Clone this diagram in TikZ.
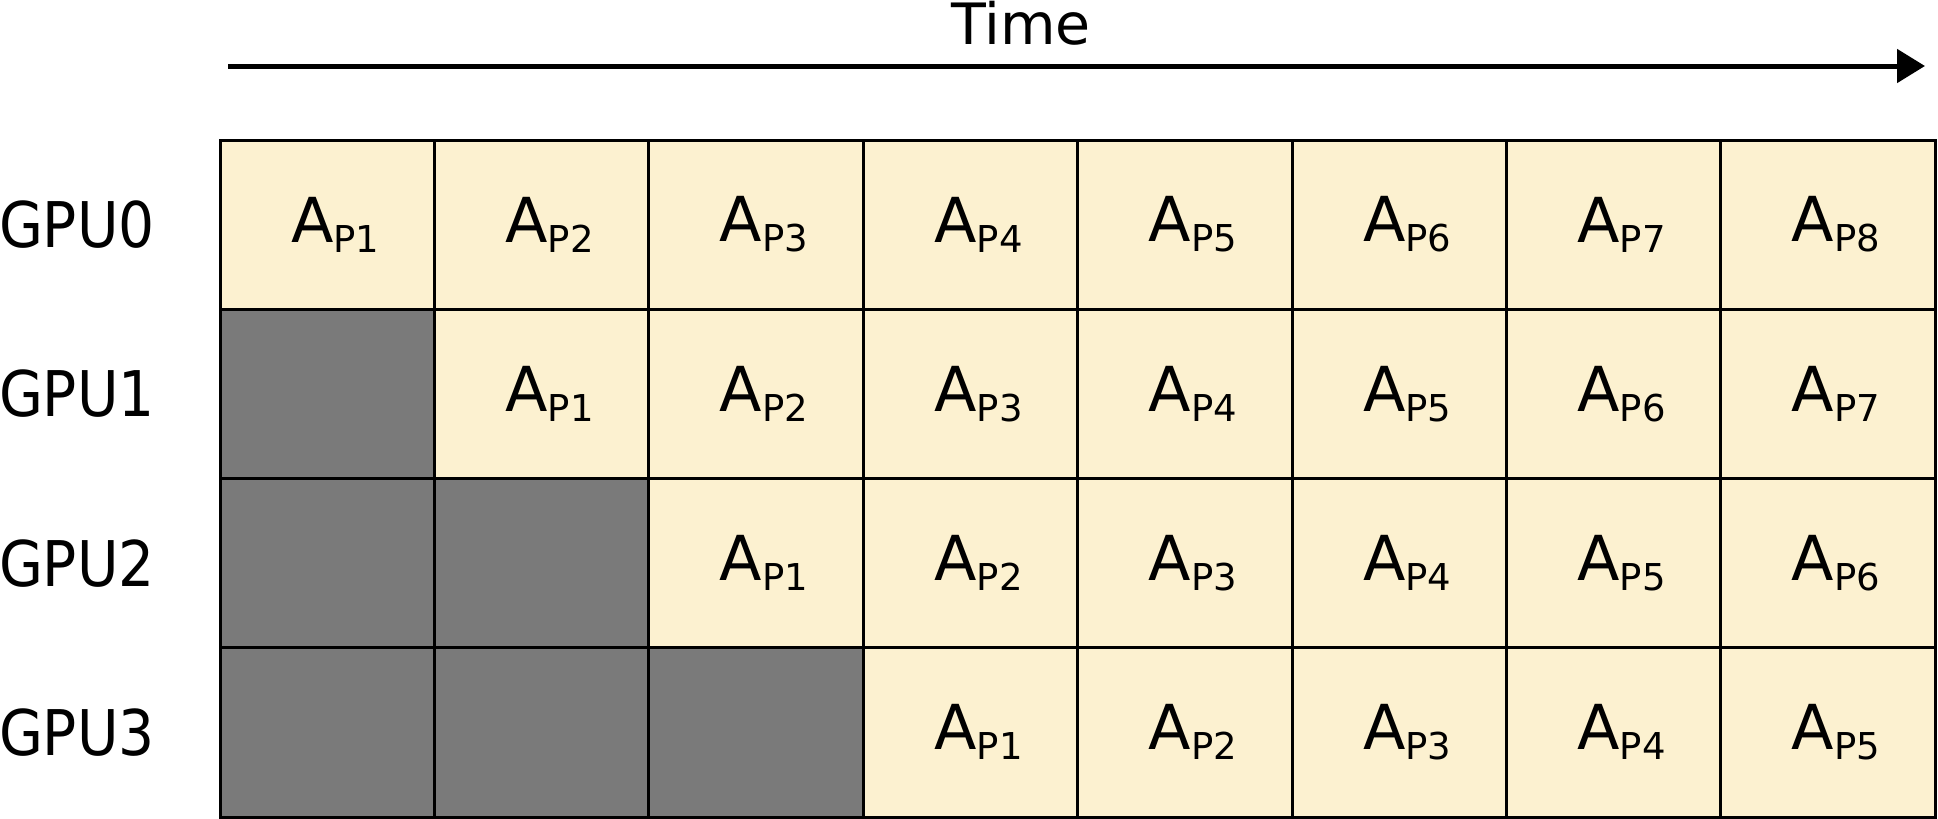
\documentclass[tikz,border=0pt]{standalone}
\usepackage{fontspec}
\setmainfont{DejaVu Sans}
\newfontfamily\condfont{DejaVu Sans Condensed}
\usetikzlibrary{arrows.meta}
\definecolor{cellfill}{HTML}{FCF1D0}
\definecolor{idlefill}{HTML}{7A7A7A}
\begin{document}
\begin{tikzpicture}[x=1pt,y=-1pt,
  cell/.style={draw=black,line width=3pt,minimum width=214.4pt,minimum height=169.25pt,inner sep=0pt,outer sep=0pt,anchor=north west},
  busy/.style={cell,fill=cellfill},
  idle/.style={cell,fill=idlefill},
  rowlbl/.style={font=\condfont\fontsize{63}{63}\selectfont,inner sep=0pt,outer sep=0pt,anchor=base west},
  timelbl/.style={font=\fontsize{57}{57}\selectfont,inner sep=0pt,anchor=base},
  timearrow/.style={line width=5pt,-{Triangle[length=28pt,width=33pt]}}]
\useasboundingbox (0,0) rectangle (1938,819);
\foreach \r in {0,...,3}{
  \foreach \c in {0,...,7}{
    \pgfmathsetmacro\xx{220+214.4*\c}
    \pgfmathsetmacro\yy{140+169.25*\r}
    \pgfmathtruncatemacro\p{\c-\r+1}
    \ifnum\c<\r
      \node[idle] (cell-\r-\c) at (\xx,\yy) {};
    \else
      \node[busy] (cell-\r-\c) at (\xx,\yy) {\hspace*{16pt}\fontsize{62}{62}\selectfont A\raisebox{-10pt}{\fontsize{37}{37}\selectfont P\p}};
    \fi
  }
  \pgfmathsetmacro\yc{140+169.25*\r+84.6+23}
  \node[rowlbl] (gpu\r) at (-1,\yc) {GPU\r};
}
\coordinate (tstart) at (228,66);
\coordinate (tend) at (1925,66);
\draw[timearrow] (tstart) -- (tend);
\node[timelbl] (time) at (1021,44) {Time};
\end{tikzpicture}
\end{document}
